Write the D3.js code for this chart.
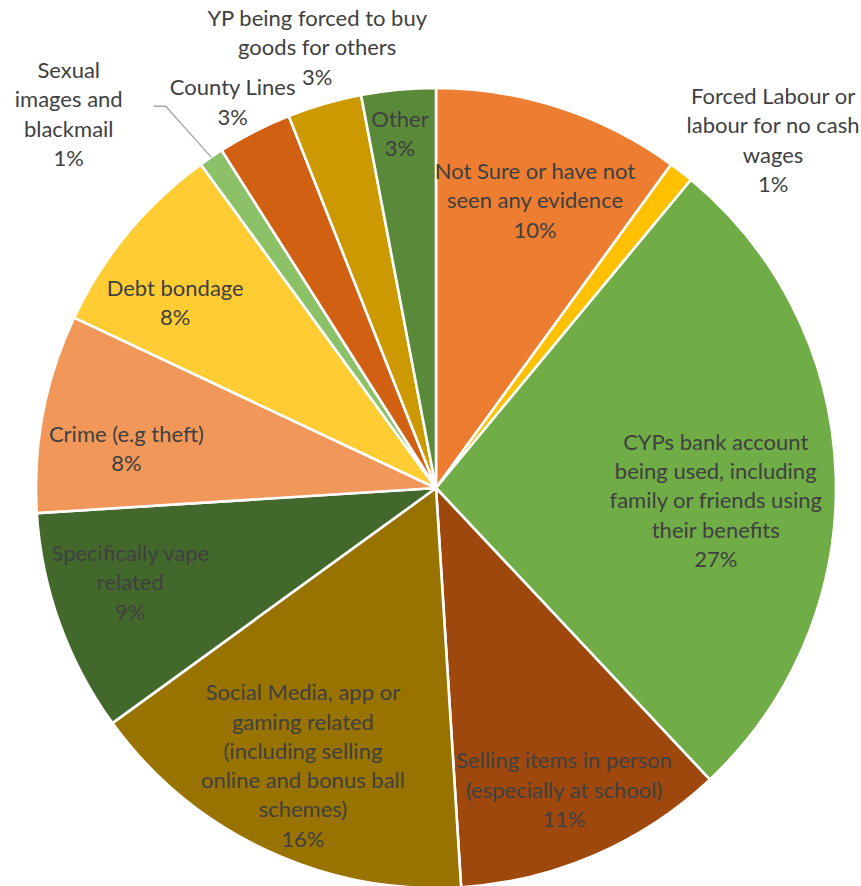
<!DOCTYPE html>
<html>
<head>
<meta charset="utf-8">
<script src="https://cdn.jsdelivr.net/npm/d3@7"></script>
<style>
  html, body { margin: 0; padding: 0; background: #ffffff; }
  svg { display: block; }
  .lbl { font-family: Lato, "Open Sans", sans-serif; font-size: 22px; fill: #404040; }
</style>
</head>
<body>
<svg id="chart" width="861" height="886"></svg>
<script>
// Categories (clockwise from 12 o'clock) and their share of responses (%)
const categories = [
  "Not Sure or have not seen any evidence",
  "Forced Labour or labour for no cash wages",
  "CYPs bank account being used, including family or friends using their benefits",
  "Selling items in person (especially at school)",
  "Social Media, app or gaming related (including selling online and bonus ball schemes)",
  "Specifically vape related",
  "Crime (e.g theft)",
  "Debt bondage",
  "Sexual images and blackmail",
  "County Lines",
  "YP being forced to buy goods for others",
  "Other"
];
const values = [10, 1, 27, 11, 16, 9, 8, 8, 1, 3, 3, 3];

// Wrapped label lines for each category, as printed on the chart
const labelLines = [
  ["Not Sure or have not", "seen any evidence"],
  ["Forced Labour or", "labour for no cash", "wages"],
  ["CYPs bank account", "being used, including", "family or friends using", "their benefits"],
  ["Selling items in person", "(especially at school)"],
  ["Social Media, app or", "gaming related", "(including selling", "online and bonus ball", "schemes)"],
  ["Specifically vape", "related"],
  ["Crime (e.g theft)"],
  ["Debt bondage"],
  ["Sexual", "images and", "blackmail"],
  ["County Lines"],
  ["YP being forced to buy", "goods for others"],
  ["Other"]
];

const colors = [
  "#ED7D31", "#FFC000", "#70AD47",
  "#9E480E", "#997300", "#43682B",
  "#F1975A", "#FFCD33", "#8CC168",
  "#D26012", "#CC9A00", "#5A8A39"
];

// Label placement: angular offset from the slice's mid-angle (degrees) and
// distance from the centre as a fraction of the radius
const labelPlace = [
  [1, 0.76], [6.3, 1.211], [4.4, 0.70], [0.4, 0.82],
  [0.4, 0.77], [2.6, 0.80], [-3.6, 0.78], [-4.2, 0.80],
  [-10.3, 1.31], [-0.8, 1.09], [1.1, 1.14], [-0.4, 0.89]
];

const cx = 436, cy = 488, R = 400;
const lineH = 29.3;

const svg = d3.select("#chart");
const g = svg.append("g").attr("transform", `translate(${cx},${cy})`);

const pie = d3.pie().sort(null).value(d => d.value);
const data = categories.map((c, i) => ({ name: c, value: values[i], idx: i }));
const arcs = pie(data);
const arc = d3.arc().innerRadius(0).outerRadius(R);

g.selectAll("path.slice")
  .data(arcs)
  .join("path")
  .attr("class", "slice")
  .attr("d", arc)
  .attr("fill", d => colors[d.data.idx])
  .attr("stroke", "#ffffff")
  .attr("stroke-width", 2.6)
  .attr("stroke-linejoin", "round");

const polar = (ang, r) => [Math.sin(ang) * r, -Math.cos(ang) * r];
const deg = Math.PI / 180;

arcs.forEach(a => {
  const i = a.data.idx;
  const mid = (a.startAngle + a.endAngle) / 2;
  const [off, k] = labelPlace[i];
  const [x, y] = polar(mid + off * deg, R * k);
  const lines = labelLines[i].concat([d3.format(".0%")(a.value / 100)]);
  const n = lines.length;
  const t = g.append("text")
    .attr("class", "lbl")
    .attr("text-anchor", "middle")
    .attr("x", x)
    .attr("y", y - (n - 1) * lineH / 2);
  lines.forEach((ln, j) => {
    t.append("tspan")
      .attr("x", x)
      .attr("dy", j === 0 ? "0.35em" : lineH)
      .text(ln);
  });

  // leader line for the small outside label on the left
  if (k > 1.25) {
    const [ex, ey] = polar(mid, R);
    const hx = x + 97, hy = y - 8;
    g.append("polyline")
      .attr("points", `${ex},${ey} ${hx},${hy} ${hx - 12},${hy}`)
      .attr("fill", "none")
      .attr("stroke", "#A6A6A6")
      .attr("stroke-width", 1.3);
  }
});
</script>
</body>
</html>
